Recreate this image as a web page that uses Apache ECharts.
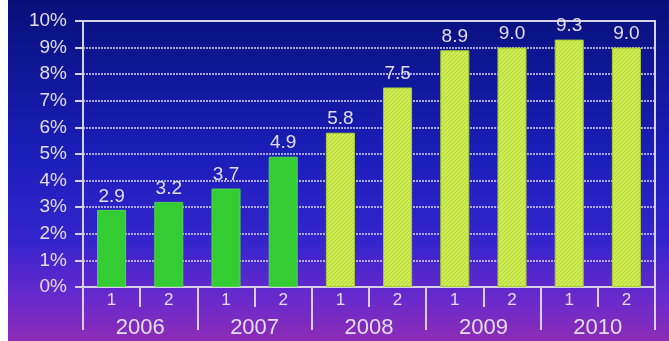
<!DOCTYPE html>
<html>
<head>
<meta charset="utf-8">
<script src="https://cdn.jsdelivr.net/npm/echarts@6/dist/echarts.min.js"></script>
<style>
html,body{margin:0;padding:0;background:#ffffff;}
#c{position:absolute;left:8px;top:0;width:661px;height:341px;}
</style>
</head>
<body>
<div id="c"></div>
<script>
var halfLabels = ['1','2','1','2','1','2','1','2','1','2'];
var years = ['2006','2007','2008','2009','2010'];
var values = [2.9, 3.2, 3.7, 4.9, 5.8, 7.5, 8.9, 9.0, 9.3, 9.0];
var hatchedFrom = 4; // index from which bars are hatched
var yTicks = [0,1,2,3,4,5,6,7,8,9,10];

var textColor = '#e2dcec';
var lineColor = '#d6cfe6';

function makePattern(){
  var c = document.createElement('canvas');
  c.width = 4; c.height = 4;
  var g = c.getContext('2d');
  g.fillStyle = '#cfec52';
  g.fillRect(0,0,4,4);
  g.strokeStyle = '#b0d43a';
  g.lineWidth = 1;
  g.beginPath();
  g.moveTo(-1,5); g.lineTo(5,-1);
  g.moveTo(-1,1); g.lineTo(1,-1);
  g.moveTo(3,5); g.lineTo(5,3);
  g.stroke();
  return c;
}
var pat = makePattern();

var chart = echarts.init(document.getElementById('c'));
var data = values.map(function(v,i){
  if (i >= hatchedFrom) {
    return {value:v, itemStyle:{color:{image:pat, repeat:'repeat'}, borderColor:'#a8cc36', borderWidth:1}};
  }
  return {value:v, itemStyle:{color:'#33cc33', borderColor:'#52d452', borderWidth:1}};
});

chart.setOption({
  animation:false,
  backgroundColor:{type:'linear',x:0,y:0,x2:0,y2:1,colorStops:[
    {offset:0,color:'#07107a'},
    {offset:0.45,color:'#1a1eb8'},
    {offset:0.7,color:'#3324cc'},
    {offset:0.88,color:'#6a2acc'},
    {offset:1,color:'#8d2cb6'}
  ]},
  grid:{left:75,right:14,top:21,bottom:54,show:true,borderColor:lineColor,borderWidth:2,backgroundColor:'transparent'},
  xAxis:[{
    type:'category',
    data:halfLabels,
    position:'bottom',
    axisLine:{show:true,lineStyle:{color:lineColor,width:2}},
    axisTick:{show:true,length:20,lineStyle:{color:lineColor,width:2}},
    axisLabel:{color:textColor,fontSize:17,fontFamily:'Liberation Sans, Arial, sans-serif',margin:5}
  },{
    type:'category',
    data:years,
    position:'bottom',
    offset:0,
    axisLine:{show:false},
    axisTick:{show:true,length:43,lineStyle:{color:lineColor,width:2}},
    axisLabel:{color:textColor,fontSize:22,fontFamily:'Liberation Sans, Arial, sans-serif',margin:30}
  }],
  yAxis:{
    type:'value',
    min:0,max:10,interval:1,
    axisLine:{show:true,lineStyle:{color:lineColor,width:2}},
    axisTick:{show:true,length:8,lineStyle:{color:lineColor,width:2}},
    axisLabel:{color:textColor,fontSize:19,fontFamily:'Liberation Sans, Arial, sans-serif',margin:16,formatter:'{value}%'},
    splitLine:{show:true,lineStyle:{color:'#d8d4ee',type:[2,1],width:1.5}}
  },
  series:[{
    type:'bar',
    xAxisIndex:0,
    data:data,
    barWidth:29,
    label:{show:true,position:'top',distance:4,color:textColor,fontSize:19,fontFamily:'Liberation Sans, Arial, sans-serif',
      formatter:function(p){return p.value.toFixed(1);}}
  }]
});
</script>
</body>
</html>
